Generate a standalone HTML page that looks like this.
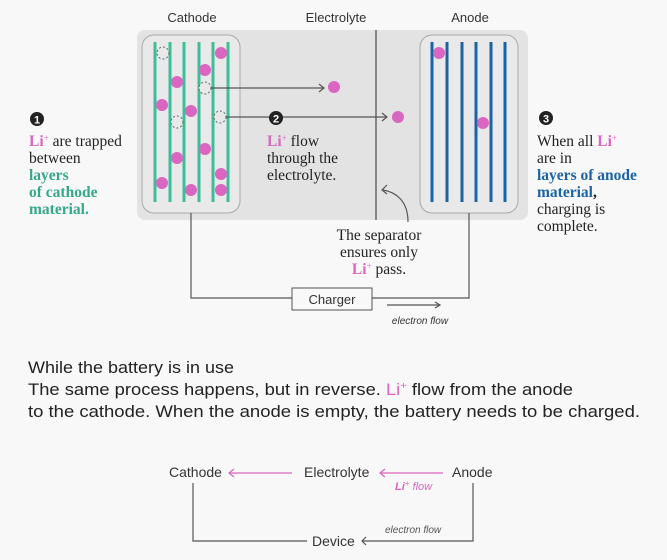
<!DOCTYPE html>
<html><head><meta charset="utf-8"><style>
html,body{margin:0;padding:0;background:#f8f8f8;}
svg{display:block}
.s{font-family:"Liberation Sans",sans-serif;fill:#333}
.r{font-family:"Liberation Serif",serif;font-size:15.5px;fill:#222}
</style></head><body>
<svg width="667" height="560" viewBox="0 0 667 560" xmlns="http://www.w3.org/2000/svg">
<rect width="667" height="560" fill="#f8f8f8"/>
<text class="s" x="192" y="22" font-size="13" text-anchor="middle">Cathode</text>
<text class="s" x="336" y="22" font-size="13" text-anchor="middle">Electrolyte</text>
<text class="s" x="470" y="22" font-size="13" text-anchor="middle">Anode</text>
<rect x="137" y="30" width="391" height="190" rx="8" fill="#e3e3e3"/>
<rect x="142" y="35" width="98" height="178" rx="12" fill="#e9e9e9" stroke="#a8a8a8"/>
<rect x="420" y="35" width="98" height="178" rx="12" fill="#e9e9e9" stroke="#a8a8a8"/>
<line x1="376" y1="30" x2="376" y2="220" stroke="#555" stroke-width="1.3"/>
<g stroke="#3cbf99" stroke-width="3">
<line x1="155" y1="42" x2="155" y2="202"/><line x1="170" y1="42" x2="170" y2="202"/><line x1="184" y1="42" x2="184" y2="202"/><line x1="199" y1="42" x2="199" y2="202"/><line x1="213" y1="42" x2="213" y2="202"/><line x1="228" y1="42" x2="228" y2="202"/></g>
<g stroke="#1a64a6" stroke-width="3">
<line x1="432" y1="42" x2="432" y2="202"/><line x1="447" y1="42" x2="447" y2="202"/><line x1="462" y1="42" x2="462" y2="202"/><line x1="476" y1="42" x2="476" y2="202"/><line x1="491" y1="42" x2="491" y2="202"/><line x1="505" y1="42" x2="505" y2="202"/></g>
<g fill="#d966c0">
<circle cx="221" cy="53" r="6"/><circle cx="205" cy="70" r="6"/><circle cx="177" cy="82" r="6"/><circle cx="162" cy="105" r="6"/><circle cx="191" cy="111" r="6"/><circle cx="205" cy="149" r="6"/><circle cx="177" cy="158" r="6"/><circle cx="221" cy="174" r="6"/><circle cx="162" cy="183" r="6"/><circle cx="191" cy="190" r="6"/><circle cx="221" cy="190" r="6"/>
<circle cx="334" cy="87" r="6"/><circle cx="398" cy="117" r="6"/><circle cx="439" cy="53" r="6"/><circle cx="483" cy="123" r="6"/></g>
<g fill="#e9e9e9" stroke="#666" stroke-dasharray="2,2">
<circle cx="163" cy="53" r="6"/><circle cx="205" cy="88" r="6"/><circle cx="177" cy="122" r="6"/><circle cx="220" cy="117" r="6"/></g>
<g stroke="#555" stroke-width="1.2" fill="none">
<line x1="211" y1="88" x2="324" y2="88"/><polyline points="319,84 324,88 319,92"/>
<line x1="226" y1="117" x2="387" y2="117"/><polyline points="382,113 387,117 382,121"/>
<path d="M408,222 C408,200 395,192 383,190"/><polyline points="387,185 382,190 387,194"/>
<polyline points="191,213 191,298 292,298"/><polyline points="372,298 469,298 469,213"/>
<line x1="387" y1="305" x2="440" y2="305"/><polyline points="435,302 440,305 435,308"/>
</g>
<rect x="292" y="288" width="80" height="22" fill="#f8f8f8" stroke="#555"/>
<text class="s" x="332" y="304" font-size="13" text-anchor="middle">Charger</text>
<text class="s" x="420" y="324" font-size="10" font-style="italic" text-anchor="middle" fill="#555">electron flow</text>
<circle cx="37" cy="119" r="7" fill="#222"/><text x="37" y="123.5" font-size="11" font-weight="bold" fill="#fff" text-anchor="middle" font-family="Liberation Sans">1</text>
<circle cx="276" cy="118" r="7" fill="#222"/><text x="276" y="122.5" font-size="11" font-weight="bold" fill="#fff" text-anchor="middle" font-family="Liberation Sans">2</text>
<circle cx="546" cy="118" r="7" fill="#222"/><text x="546" y="122.5" font-size="11" font-weight="bold" fill="#fff" text-anchor="middle" font-family="Liberation Sans">3</text>
<text class="r" x="29" y="146"><tspan fill="#d966c0" font-weight="bold">Li</tspan><tspan fill="#d966c0" font-size="9" dy="-5">+</tspan><tspan dy="5"> are trapped</tspan></text>
<text class="r" x="29" y="163">between</text>
<g class="r" font-weight="bold" style="fill:#34a98a"><text x="29" y="180">layers</text><text x="29" y="197">of cathode</text><text x="29" y="214">material.</text></g>
<text class="r" x="267" y="146"><tspan fill="#d966c0" font-weight="bold">Li</tspan><tspan fill="#d966c0" font-size="9" dy="-5">+</tspan><tspan dy="5"> flow</tspan></text>
<text class="r" x="267" y="163">through the</text>
<text class="r" x="267" y="180">electrolyte.</text>
<text class="r" x="537" y="146">When all <tspan fill="#d966c0" font-weight="bold">Li</tspan><tspan fill="#d966c0" font-size="9" dy="-5">+</tspan></text>
<text class="r" x="537" y="163">are in</text>
<g class="r" font-weight="bold" style="fill:#1a64a6"><text x="537" y="180">layers of anode</text><text x="537" y="197">material<tspan fill="#222">,</tspan></text></g>
<text class="r" x="537" y="214">charging is</text>
<text class="r" x="537" y="231">complete.</text>
<g class="r" text-anchor="middle"><text x="379" y="240">The separator</text><text x="379" y="257">ensures only</text>
<text x="379" y="274"><tspan fill="#d966c0" font-weight="bold">Li</tspan><tspan fill="#d966c0" font-size="9" dy="-5">+</tspan><tspan dy="5"> pass.</tspan></text></g>
<g class="s" font-size="16.5" style="fill:#222"><text x="28" y="373" textLength="206" lengthAdjust="spacingAndGlyphs">While the battery is in use</text>
<text x="28" y="395" textLength="545" lengthAdjust="spacingAndGlyphs">The same process happens, but in reverse. <tspan fill="#d966c0">Li</tspan><tspan fill="#d966c0" font-size="10" dy="-6">+</tspan><tspan dy="6"> flow from the anode</tspan></text>
<text x="28" y="417" textLength="612" lengthAdjust="spacingAndGlyphs">to the cathode. When the anode is empty, the battery needs to be charged.</text></g>
<g class="s" font-size="14"><text x="169" y="477">Cathode</text><text x="304" y="477">Electrolyte</text><text x="452" y="477">Anode</text><text x="312" y="546">Device</text></g>
<g stroke="#d966c0" stroke-width="1.2" fill="none"><line x1="229" y1="473" x2="292" y2="473"/><polyline points="234,469 229,473 234,477"/>
<line x1="380" y1="473" x2="443" y2="473"/><polyline points="385,469 380,473 385,477"/></g>
<text x="395" y="490" font-family="Liberation Sans" font-size="11" font-style="italic" fill="#d966c0"><tspan font-weight="bold">Li</tspan><tspan font-size="8" dy="-4">+</tspan><tspan dy="4"> flow</tspan></text>
<text x="385" y="533" class="s" font-size="10" font-style="italic" style="fill:#555">electron flow</text>
<g stroke="#555" stroke-width="1.2" fill="none"><polyline points="193,483 193,541 307,541"/><polyline points="473,483 473,541 362,541"/><polyline points="366,537 362,541 366,545"/></g>
</svg>
</body></html>
